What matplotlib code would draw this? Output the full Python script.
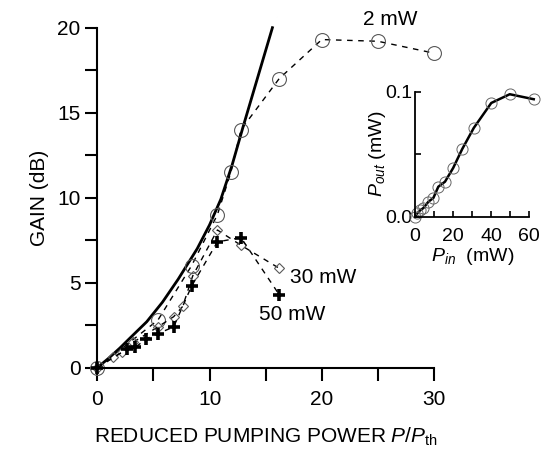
import matplotlib
matplotlib.use("Agg")
import matplotlib.pyplot as plt
from matplotlib.ticker import MultipleLocator

plt.rcParams['font.family'] = ['Liberation Sans', 'DejaVu Sans']
plt.rcParams['mathtext.fontset'] = 'custom'
plt.rcParams['mathtext.rm'] = 'Liberation Sans'
plt.rcParams['mathtext.it'] = 'Liberation Sans:italic'

# theory curve
theory_x = [0, 1, 2, 3, 4.4, 5.8, 7.2, 8.9, 10.0, 11.0, 12.0, 13.0, 14.3, 15.6]
theory_y = [0, 0.55, 1.15, 1.8, 2.7, 3.85, 5.2, 7.0, 8.4, 9.9, 11.9, 14.2, 17.1, 20.0]

# 2 mW
p2_x = [0, 5.4, 8.4, 10.7, 11.9, 12.8, 16.2, 20, 25, 30]
p2_y = [0, 2.8, 6.0, 9.0, 11.5, 14.0, 17.0, 19.3, 19.2, 18.5]

# 30 mW
p30_x = [0, 1.4, 2.2, 3.2, 5.4, 6.8, 7.6, 8.5, 10.7, 12.8, 16.2]
p30_y = [0, 0.6, 0.9, 1.5, 2.4, 3.0, 3.6, 5.4, 8.1, 7.2, 5.85]

# 50 mW
p50_x = [0, 2.6, 3.4, 4.35, 5.4, 6.8, 8.4, 10.7, 12.8, 16.2]
p50_y = [0, 1.08, 1.2, 1.7, 2.0, 2.4, 4.8, 7.4, 7.65, 4.3]

# inset: output vs input power
pin = [0, 1.2, 2.6, 4.4, 7, 9.6, 12.2, 15.7, 20, 24.7, 30.8, 40, 49.7, 62.3]
pout = [0, 0.0027, 0.005, 0.007, 0.012, 0.015, 0.024, 0.028, 0.039, 0.054, 0.071, 0.091, 0.098, 0.094]

fig = plt.figure(figsize=(5.44, 4.55), dpi=100)
ax = fig.add_axes([0.1789, 0.1919, 0.619, 0.7473])

ax.plot(theory_x, theory_y, color='black', lw=2.0, clip_on=False)
ax.plot(p2_x, p2_y, ls=(0, (4, 4)), color='black', lw=1.0, marker='o', ms=10,
        mfc='none', mec='0.35', mew=0.8, clip_on=False)
ax.plot(p30_x, p30_y, ls=(0, (4, 4)), color='black', lw=1.0, marker='D', ms=5,
        mfc='none', mec='0.35', mew=0.8, clip_on=False)
ax.plot(p50_x, p50_y, ls=(0, (4, 4)), color='black', lw=1.0, marker='+', ms=9,
        mec='black', mew=2.6, clip_on=False)

ax.set_xlim(0, 30)
ax.set_ylim(0, 20)
ax.xaxis.set_major_locator(MultipleLocator(10))
ax.xaxis.set_minor_locator(MultipleLocator(5))
ax.yaxis.set_major_locator(MultipleLocator(5))
ax.yaxis.set_minor_locator(MultipleLocator(2.5))
ax.tick_params(which='both', direction='out', length=9, width=1.5, labelsize=15)
ax.tick_params(axis='x', pad=7)
ax.tick_params(axis='y', pad=3)
for s in ['top', 'right']:
    ax.spines[s].set_visible(False)
for s in ['left', 'bottom']:
    ax.spines[s].set_linewidth(1.5)

ax.set_ylabel('GAIN (dB)', fontsize=15, labelpad=6)
ax.set_xlabel('REDUCED PUMPING POWER $P$/$P_{\\mathrm{th}}$', fontsize=15, labelpad=12)

ax.text(26.1, 20.5, '2 mW', fontsize=15, ha='center', va='center')
ax.text(20.1, 5.3, '30 mW', fontsize=15, ha='center', va='center')
ax.text(17.4, 3.1, '50 mW', fontsize=15, ha='center', va='center')

# inset
ins = fig.add_axes([0.763, 0.5237, 0.2101, 0.2747])
ins.plot(pin, pout, color='black', lw=1.8, marker='o', ms=8, mfc='none',
         mec='0.4', mew=0.7, clip_on=False)
ins.set_xlim(0, 60)
ins.set_ylim(0, 0.1)
ins.set_xticks([0, 20, 40, 60])
ins.xaxis.set_minor_locator(MultipleLocator(10))
ins.set_yticks([0, 0.1])
ins.set_yticklabels(['0.0', '0.1'])
ins.yaxis.set_minor_locator(MultipleLocator(0.05))
ins.tick_params(which='both', direction='in', length=4, width=1.2, labelsize=14)
ins.tick_params(axis='x', pad=8)
ins.tick_params(axis='y', pad=2)
for s in ['top', 'right']:
    ins.spines[s].set_visible(False)
for s in ['left', 'bottom']:
    ins.spines[s].set_linewidth(1.3)
ins.set_ylabel('$P_{out}$ (mW)', fontsize=14, labelpad=-2)
ins.set_xlabel('$P_{in}$  (mW)', fontsize=14, labelpad=1)

fig.savefig('out.png', dpi=100)
